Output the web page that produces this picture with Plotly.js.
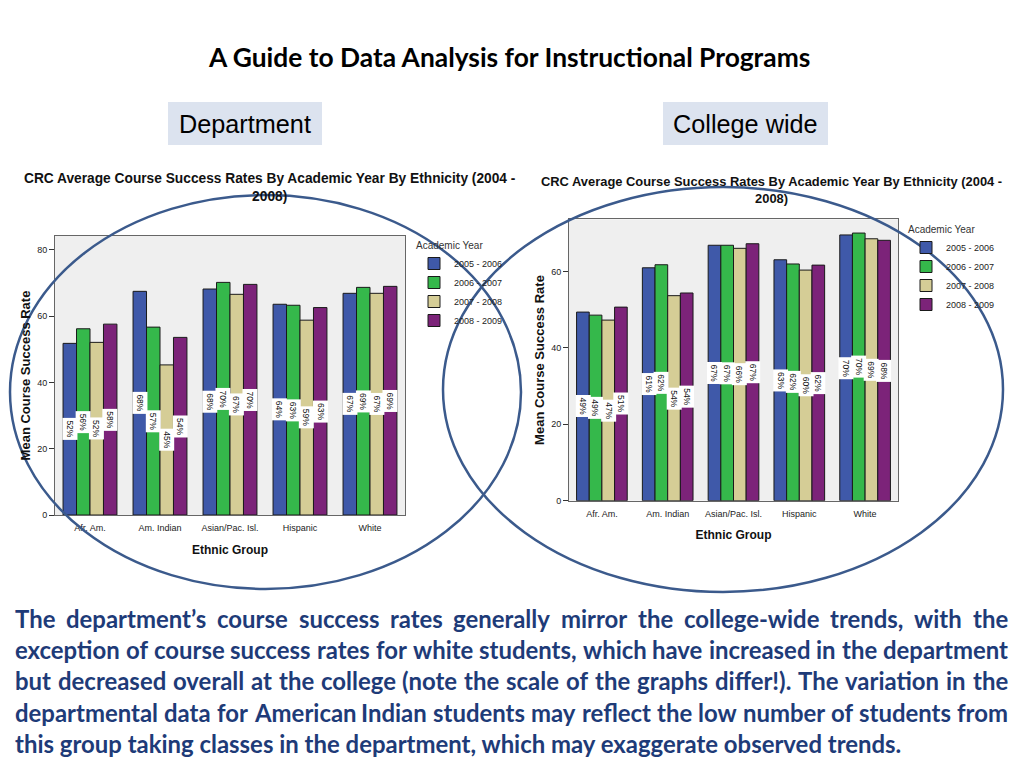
<!DOCTYPE html>
<html>
<head>
<meta charset="utf-8">
<script src="https://cdn.plot.ly/plotly-3.0.1.min.js"></script>
<style>
html,body{margin:0;padding:0;background:#fff;}
#chart{width:1024px;height:768px;}
</style>
</head>
<body>
<div id="chart"></div>
<script>
// ---------------- DATA ----------------
const categories = ['Afr. Am.', 'Am. Indian', 'Asian/Pac. Isl.', 'Hispanic', 'White'];
const years = ['2005 - 2006', '2006 - 2007', '2007 - 2008', '2008 - 2009'];

// Department: mean course success rate
const dept2005 = [51.8, 67.5, 68.2, 63.6, 66.9];
const dept2006 = [56.2, 56.7, 70.2, 63.3, 68.7];
const dept2007 = [52.1, 45.3, 66.6, 58.8, 66.9];
const dept2008 = [57.6, 53.6, 69.6, 62.6, 69.0];

// College wide: mean course success rate
const coll2005 = [49.4, 61.0, 66.9, 63.1, 69.6];
const coll2006 = [48.6, 61.8, 66.9, 62.0, 70.1];
const coll2007 = [47.3, 53.7, 66.1, 60.4, 68.6];
const coll2008 = [50.7, 54.4, 67.3, 61.7, 68.2];

const slideTitle = 'A Guide to Data Analysis for Instructional Programs';
const chartTitle1 = 'CRC Average Course Success Rates By Academic Year By Ethnicity (2004 -';
const chartTitle2 = '2008)';
const yTitle = 'Mean Course Success Rate';
const xTitle = 'Ethnic Group';
const legendTitle = 'Academic Year';
const panelLabels = ['Department', 'College wide'];
const paragraphLines = [
  'The department\u2019s course success rates generally mirror the college-wide trends, with the',
  'exception of course success rates for white students, which have increased in the department',
  'but decreased overall at the college (note the scale of the graphs differ!).  The variation in the',
  'departmental data for American Indian students may reflect the low number of students from',
  'this group taking classes in the department, which may exaggerate observed trends.'
];

// ---------------- STYLE ----------------
const colors = ['#3f59a9', '#35b84b', '#d5cd96', '#7c2379'];
const W = 1024, H = 768;
const BARGAP = 0.23;

const canvas = document.createElement('canvas');
const ctx = canvas.getContext('2d');
function measure(text, family, weight, size) {
  ctx.font = weight + ' ' + size + 'px ' + family;
  return ctx.measureText(text).width;
}
function fitSize(text, family, weight, target) {
  return 100 * target / measure(text, family, weight, 100);
}
const px = x => x / W;
const py = y => 1 - y / H;

const deptSeries = [dept2005, dept2006, dept2007, dept2008];
const collSeries = [coll2005, coll2006, coll2007, coll2008];

const traces = [];
deptSeries.forEach((vals, j) => {
  traces.push({
    type: 'bar', x: categories, y: vals, name: years[j],
    xaxis: 'x', yaxis: 'y', legend: 'legend',
    marker: {color: colors[j], line: {color: '#1a1a1a', width: 1}},
    hoverinfo: 'skip'
  });
});
collSeries.forEach((vals, j) => {
  traces.push({
    type: 'bar', x: categories, y: vals, name: years[j],
    xaxis: 'x2', yaxis: 'y2', legend: 'legend2',
    marker: {color: colors[j], line: {color: '#1a1a1a', width: 1}},
    hoverinfo: 'skip'
  });
});

const annotations = [];
// bar value labels (rotated, white boxes at half height)
const bw = (1 - BARGAP) / 4;
function addLabels(series, xr, yr) {
  series.forEach((vals, j) => {
    vals.forEach((v, i) => {
      annotations.push({
        xref: xr, yref: yr, x: i + (j - 1.5) * bw, y: v / 2,
        text: Math.round(v) + '%', showarrow: false, textangle: 90,
        bgcolor: '#ffffff', borderpad: 2,
        font: {family: 'Liberation Sans, Arial', size: 8.5, color: '#111'}
      });
    });
  });
}
addLabels(deptSeries, 'x', 'y');
addLabels(collSeries, 'x2', 'y2');

// slide title
const SANS = 'Lato';
const titleSize = fitSize(slideTitle, SANS, 'bold', 604);
annotations.push({
  xref: 'paper', yref: 'paper', x: px(509), y: py(57), xanchor: 'center', yanchor: 'middle',
  text: '<b>' + slideTitle + '</b>', showarrow: false,
  font: {family: SANS, size: titleSize, color: '#000'}
});

// panel labels
const panelSize = fitSize(panelLabels[0], 'Liberation Sans', 'normal', 132);
annotations.push({
  xref: 'paper', yref: 'paper', x: px(245), y: py(124), xanchor: 'center', yanchor: 'middle',
  text: panelLabels[0], showarrow: false,
  font: {family: 'Liberation Sans, Arial', size: panelSize, color: '#000'}
});
annotations.push({
  xref: 'paper', yref: 'paper', x: px(745.5), y: py(124), xanchor: 'center', yanchor: 'middle',
  text: panelLabels[1], showarrow: false,
  font: {family: 'Liberation Sans, Arial', size: panelSize, color: '#000'}
});

// chart titles
const ct1 = fitSize(chartTitle1, 'Liberation Sans', 'bold', 493);
const ct2 = fitSize(chartTitle1, 'Liberation Sans', 'bold', 463);
annotations.push({
  xref: 'paper', yref: 'paper', x: px(270), y: py(169), xanchor: 'center', yanchor: 'top',
  text: '<b>' + chartTitle1 + '<br>' + chartTitle2 + '</b>', showarrow: false,
  font: {family: 'Liberation Sans, Arial', size: ct1, color: '#111', lineposition: 'none'}
});
annotations.push({
  xref: 'paper', yref: 'paper', x: px(771), y: py(172), xanchor: 'center', yanchor: 'top',
  text: '<b>' + chartTitle1 + '<br>' + chartTitle2 + '</b>', showarrow: false,
  font: {family: 'Liberation Sans, Arial', size: ct2, color: '#111'}
});

// justified paragraph
const LEFT = 14, RIGHT = 1007;
let pSize = fitSize(paragraphLines[4], SANS, 'bold', 888);
for (let i = 0; i < 4; i++) {
  pSize = Math.min(pSize, fitSize(paragraphLines[i], SANS, 'bold', RIGHT - LEFT));
}
const lineY = [618, 649, 680, 712, 743];
const textColor = '#1e3b78';
paragraphLines.forEach((line, li) => {
  if (li === paragraphLines.length - 1) {
    annotations.push({
      xref: 'paper', yref: 'paper', x: px(LEFT), y: py(lineY[li]), xanchor: 'left', yanchor: 'middle',
      text: '<b>' + line + '</b>', showarrow: false, borderpad: 0,
      font: {family: SANS, size: pSize, color: textColor}
    });
    return;
  }
  const words = line.split(/\s+/);
  const widths = words.map(w => measure(w, SANS, 'bold', pSize));
  const total = widths.reduce((a, b) => a + b, 0);
  const gap = (RIGHT - LEFT - total) / (words.length - 1);
  let xpos = LEFT;
  words.forEach((w, k) => {
    annotations.push({
      xref: 'paper', yref: 'paper', x: px(xpos), y: py(lineY[li]), xanchor: 'left', yanchor: 'middle',
      text: '<b>' + w + '</b>', showarrow: false, borderpad: 0,
      font: {family: SANS, size: pSize, color: textColor}
    });
    xpos += widths[k] + gap;
  });
});

const shapes = [
  // panel label boxes
  {type: 'rect', xref: 'paper', yref: 'paper', x0: px(168), x1: px(322), y0: py(145), y1: py(102),
   fillcolor: '#dce3ef', line: {width: 0}, layer: 'below'},
  {type: 'rect', xref: 'paper', yref: 'paper', x0: px(663), x1: px(828), y0: py(145), y1: py(102),
   fillcolor: '#dce3ef', line: {width: 0}, layer: 'below'},
  // ellipses
  {type: 'circle', xref: 'paper', yref: 'paper', x0: px(10), x1: px(521), y0: py(589), y1: py(195),
   line: {color: '#3b5a8c', width: 2.5}, fillcolor: 'rgba(0,0,0,0)', layer: 'above'},
  {type: 'circle', xref: 'paper', yref: 'paper', x0: px(443), x1: px(1003), y0: py(592), y1: py(187),
   line: {color: '#3b5a8c', width: 2.5}, fillcolor: 'rgba(0,0,0,0)', layer: 'above'}
];

const axisFont = {family: 'Liberation Sans, Arial', size: 9, color: '#222'};
const titleFont = {family: 'Liberation Sans, Arial', size: 13, color: '#111'};
function xax(domain) {
  return {
    domain: domain, type: 'category', showline: true, mirror: true, linecolor: '#666', linewidth: 1,
    ticks: '', tickfont: axisFont, showgrid: false, zeroline: false, fixedrange: true,
    ticklabelstandoff: 4,
    title: {text: '<b>' + xTitle + '</b>', font: {family: 'Liberation Sans, Arial', size: 12, color: '#111'}, standoff: 13}
  };
}
function yax(domain, range, anchor) {
  return {
    domain: domain, range: range, dtick: 20, showline: true, mirror: true, linecolor: '#666', linewidth: 1,
    ticks: 'outside', ticklen: 5, tickcolor: '#333', tickfont: axisFont, showgrid: false, zeroline: false,
    fixedrange: true, anchor: anchor,
    title: {text: '<b>' + yTitle + '</b>', font: titleFont, standoff: 3}
  };
}

const legendBase = {
  title: {text: legendTitle, font: {family: 'Liberation Sans, Arial', size: 10, color: '#333'}},
  font: {family: 'Liberation Sans, Arial', size: 9, color: '#222'},
  bgcolor: 'rgba(0,0,0,0)', borderwidth: 0, xanchor: 'left', yanchor: 'top',
  itemwidth: 30, tracegroupgap: 0
};

const layout = {
  width: W, height: H,
  margin: {l: 0, r: 0, t: 0, b: 0},
  paper_bgcolor: '#ffffff',
  plot_bgcolor: '#efefef',
  barmode: 'group', bargap: BARGAP, bargroupgap: 0,
  showlegend: true,
  xaxis: Object.assign(xax([px(55), px(405)]), {anchor: 'y'}),
  yaxis: yax([py(515), py(236)], [0, 84.2], 'x'),
  xaxis2: Object.assign(xax([px(569), px(898)]), {anchor: 'y2'}),
  yaxis2: yax([py(500.7), py(219.3)], [0, 73.7], 'x2'),
  legend: Object.assign({}, legendBase, {x: px(414), y: py(236)}),
  legend2: Object.assign({}, legendBase, {x: px(906), y: py(220)}),
  annotations: annotations,
  shapes: shapes
};
Plotly.newPlot('chart', traces, layout, {displayModeBar: false, staticPlot: true});
</script>
</body>
</html>
